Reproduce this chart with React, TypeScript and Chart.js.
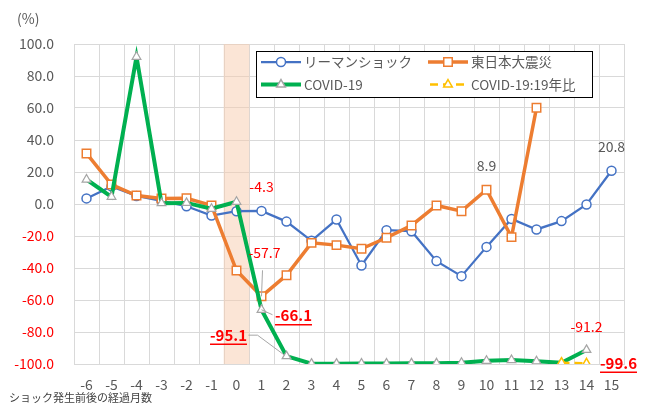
import React, { useEffect, useRef } from "react";
import { Chart, registerables } from "chart.js";

Chart.register(...registerables);

// ---- data ----
const months = ["-6", "-5", "-4", "-3", "-2", "-1", "0", "1", "2", "3", "4", "5", "6", "7", "8", "9", "10", "11", "12", "13", "14", "15"];
const lehman = [3.5, 11, 5, 2, -1.4, -7.2, -4.5, -4.3, -11, -23, -9.7, -38.4, -16.4, -17, -35.7, -45.1, -26.8, -9.3, -15.9, -10.7, -0.3, 20.8];
const quake = [31.6, 12.2, 5.3, 3.4, 3.6, -0.9, -41.6, -57.7, -44.5, -24.3, -25.7, -28, -21.1, -13.4, -0.9, -4.5, 8.9, -20.7, 60.1, null, null, null];
const covid = [15.3, 4.5, 92, 0.5, 0.7, -3, 1.4, -66.1, -95.1, -99.8, -99.8, -99.7, -99.7, -99.6, -99.6, -99.2, -98.0, -97.5, -98.3, -99.2, -91.2, null];
const covidVs19 = [null, null, null, null, null, null, null, null, null, null, null, null, null, null, null, null, null, null, null, -99.2, -99.6, null];
const shockBand = [null, null, null, null, null, null, [-100, 100], null, null, null, null, null, null, null, null, null, null, null, null, null, null, null];
const yTicks = [100, 80, 60, 40, 20, 0, -20, -40, -60, -80, -100];
const seriesNames = ["リーマンショック", "東日本大震災", "COVID-19", "COVID-19:19年比"];
const yUnit = "(%)";
const xTitle = "ショック発生前後の経過月数";

const FONT = "'Noto Sans CJK JP', 'Noto Sans', sans-serif";
const GRAY = "#595959";
const RED = "#FF0000";
const BLUE = "#4472C4";
const ORANGE = "#ED7D31";
const GREEN = "#00B050";
const YELLOW = "#FFC000";
const TRI_BORDER = "#A5A5A5";

// label annotations: dataset index, point index, text
const annotations = [
  { ds: 1, i: 7, text: "-4.3", dx: 0, dy: -24, color: RED, bold: false },
  { ds: 2, i: 7, text: "-57.7", dx: 3, dy: -44, color: RED, bold: false, leader: [[1, -26], [0, 0]] },
  { ds: 3, i: 7, text: "-66.1", dx: 32, dy: 6, color: RED, bold: true, leader: [[11, 5], [0, 0]] },
  { ds: 3, i: 8, text: "-95.1", dx: -58, dy: -21, color: RED, bold: true, leader: [[-38, -21], [-29, -21], [-2, -1]] },
  { ds: 2, i: 16, text: "8.9", dx: 0, dy: -24, color: GRAY, bold: false },
  { ds: 1, i: 21, text: "20.8", dx: 0, dy: -24, color: GRAY, bold: false },
  { ds: 3, i: 20, text: "-91.2", dx: 0, dy: -23, color: RED, bold: false },
  { ds: 4, i: 20, text: "-99.6", dx: 32, dy: 0, color: RED, bold: true },
];

function drawMarker(ctx: CanvasRenderingContext2D, style: string, x: number, y: number, r: number, stroke: string) {
  ctx.save();
  ctx.beginPath();
  if (style === "circle") {
    ctx.arc(x, y, r, 0, Math.PI * 2);
  } else if (style === "rect") {
    const s = r * Math.SQRT1_2;
    ctx.rect(x - s, y - s, 2 * s, 2 * s);
  } else {
    ctx.moveTo(x, y - r);
    ctx.lineTo(x + r * Math.sin((2 * Math.PI) / 3), y - r * Math.cos((2 * Math.PI) / 3));
    ctx.lineTo(x + r * Math.sin((4 * Math.PI) / 3), y - r * Math.cos((4 * Math.PI) / 3));
    ctx.closePath();
  }
  ctx.fillStyle = "#FFFFFF";
  ctx.fill();
  ctx.lineWidth = 1.5;
  ctx.strokeStyle = stroke;
  ctx.stroke();
  ctx.restore();
}

const overlayPlugin = {
  id: "overlay",
  afterDatasetsDraw(chart: any) {
    const ctx: CanvasRenderingContext2D = chart.ctx;
    const area = chart.chartArea;
    ctx.save();
    // data labels
    annotations.forEach((a: any) => {
      const el = chart.getDatasetMeta(a.ds).data[a.i];
      if (!el) return;
      const px = el.x;
      const py = el.y;
      if (a.leader) {
        ctx.beginPath();
        ctx.strokeStyle = "#A6A6A6";
        ctx.lineWidth = 1;
        a.leader.forEach((p: number[], k: number) => {
          if (k === 0) ctx.moveTo(px + p[0], py + p[1]);
          else ctx.lineTo(px + p[0], py + p[1]);
        });
        ctx.stroke();
      }
      ctx.font = `${a.bold ? "bold " : ""}${a.bold ? 15 : 14}px ${FONT}`;
      ctx.fillStyle = a.color;
      ctx.textAlign = "center";
      ctx.textBaseline = "middle";
      const tx = px + a.dx;
      const ty = py + a.dy;
      ctx.fillText(a.text, tx, ty);
      if (a.bold) {
        const w = ctx.measureText(a.text).width;
        ctx.beginPath();
        ctx.strokeStyle = a.color;
        ctx.lineWidth = 1.5;
        ctx.moveTo(tx - w / 2, ty + 9);
        ctx.lineTo(tx + w / 2, ty + 9);
        ctx.stroke();
      }
    });

    // legend box
    const lx = area.left + 182;
    const ly = area.top + 7;
    const lw = 336;
    const lh = 46;
    ctx.fillStyle = "#FFFFFF";
    ctx.fillRect(lx, ly, lw, lh);
    ctx.strokeStyle = "#000000";
    ctx.lineWidth = 1;
    ctx.strokeRect(lx + 0.5, ly + 0.5, lw, lh);
    const items = [
      { name: seriesNames[0], color: BLUE, marker: "circle", r: 4.5, mstroke: BLUE, width: 2.25, dash: [] as number[] },
      { name: seriesNames[1], color: ORANGE, marker: "rect", r: 6, mstroke: ORANGE, width: 3.5, dash: [] as number[] },
      { name: seriesNames[2], color: GREEN, marker: "triangle", r: 5, mstroke: TRI_BORDER, width: 4, dash: [] as number[] },
      { name: seriesNames[3], color: YELLOW, marker: "triangle", r: 5, mstroke: YELLOW, width: 2.5, dash: [8, 5] },
    ];
    items.forEach((it, k) => {
      const col = k % 2;
      const row = Math.floor(k / 2);
      const x0 = lx + 5 + col * 167;
      const y0 = ly + 11 + row * 22.5;
      ctx.beginPath();
      ctx.strokeStyle = it.color;
      ctx.lineWidth = it.width;
      ctx.setLineDash(it.dash);
      if (it.dash.length) {
        ctx.moveTo(x0 + 2, y0);
      } else {
        ctx.moveTo(x0, y0);
      }
      ctx.lineTo(x0 + 40, y0);
      ctx.stroke();
      ctx.setLineDash([]);
      drawMarker(ctx, it.marker, x0 + 20, y0, it.r, it.mstroke);
      ctx.font = `13.5px ${FONT}`;
      ctx.fillStyle = GRAY;
      ctx.textAlign = "left";
      ctx.textBaseline = "middle";
      ctx.fillText(it.name, x0 + 43, y0);
    });

    // unit label and x title
    ctx.font = `14px ${FONT}`;
    ctx.fillStyle = GRAY;
    ctx.textAlign = "left";
    ctx.textBaseline = "middle";
    ctx.fillText(yUnit, 17, 19);
    ctx.font = `11px ${FONT}`;
    ctx.fillStyle = "#404040";
    ctx.fillText(xTitle, 9, 398);
    ctx.restore();
  },
};

export default function App() {
  const canvasRef = useRef<HTMLCanvasElement | null>(null);

  useEffect(() => {
    if (!canvasRef.current) return;
    const chart = new Chart(canvasRef.current, {
      type: "line",
      data: {
        labels: months,
        datasets: [
          {
            type: "bar",
            label: "band",
            data: shockBand as any,
            backgroundColor: "rgba(248,203,173,0.5)",
            borderWidth: 0,
            barPercentage: 1,
            categoryPercentage: 1,
            order: 10,
          } as any,
          {
            label: seriesNames[0],
            data: lehman,
            borderColor: BLUE,
            borderWidth: 2.25,
            pointStyle: "circle",
            pointRadius: 4.5,
            pointBackgroundColor: "#FFFFFF",
            pointBorderColor: BLUE,
            pointBorderWidth: 1.5,
            tension: 0,
            order: 4,
          },
          {
            label: seriesNames[1],
            data: quake,
            borderColor: ORANGE,
            borderWidth: 3.5,
            pointStyle: "rect",
            pointRadius: 6,
            pointBackgroundColor: "#FFFFFF",
            pointBorderColor: ORANGE,
            pointBorderWidth: 1.5,
            tension: 0,
            order: 3,
          },
          {
            label: seriesNames[2],
            data: covid,
            borderColor: GREEN,
            borderWidth: 4,
            pointStyle: "triangle",
            pointRadius: 5,
            pointBackgroundColor: "#FFFFFF",
            pointBorderColor: TRI_BORDER,
            pointBorderWidth: 1.25,
            tension: 0,
            order: 2,
          },
          {
            label: seriesNames[3],
            data: covidVs19,
            borderColor: YELLOW,
            borderWidth: 2.5,
            borderDash: [8, 5],
            pointStyle: "triangle",
            pointRadius: 5,
            pointBackgroundColor: "#FFFFFF",
            pointBorderColor: YELLOW,
            pointBorderWidth: 1.5,
            tension: 0,
            order: 1,
          },
        ],
      },
      options: {
        animation: false,
        responsive: false,
        maintainAspectRatio: false,
        layout: { padding: { top: 44, right: 30, left: 0, bottom: 0 } },
        plugins: {
          legend: { display: false },
          tooltip: { enabled: false },
          title: { display: false },
        },
        scales: {
          x: {
            type: "category",
            offset: true,
            grid: { offset: true, color: "#D9D9D9", lineWidth: 1, drawTicks: false },
            border: { color: "#D9D9D9" },
            ticks: { color: GRAY, font: { family: FONT, size: 14 }, padding: 12, maxRotation: 0, autoSkip: false },
            afterFit: (s: any) => {
              s.height = 44;
            },
          },
          y: {
            min: -100,
            max: 100,
            afterBuildTicks: (s: any) => {
              s.ticks = yTicks.map((v) => ({ value: v }));
            },
            grid: { color: "#D9D9D9", lineWidth: 1, drawTicks: false },
            border: { color: "#D9D9D9" },
            ticks: {
              padding: 20,
              font: { family: FONT, size: 14 },
              color: (c: any) => (c.tick && c.tick.value < 0 ? RED : GRAY),
              callback: (v: any) => Number(v).toFixed(1),
            },
            afterFit: (s: any) => {
              s.width = 74;
            },
          },
        },
      },
      plugins: [overlayPlugin],
    });
    return () => chart.destroy();
  }, []);

  return (
    <div style={{ position: "fixed", left: 0, top: 0, width: 654, height: 408, background: "#FFFFFF" }}>
      <canvas ref={canvasRef} width={654} height={408} style={{ width: 654, height: 408 }} />
    </div>
  );
}
